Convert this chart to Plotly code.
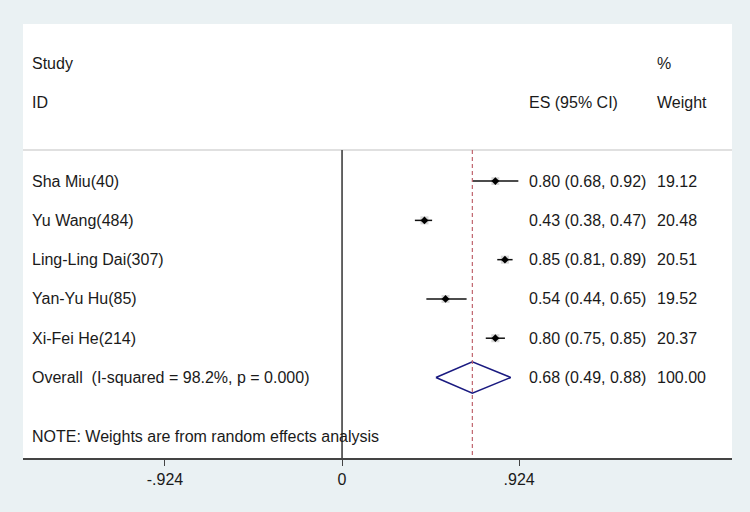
import plotly.graph_objects as go

studies = ["Sha Miu(40)", "Yu Wang(484)", "Ling-Ling Dai(307)", "Yan-Yu Hu(85)", "Xi-Fei He(214)"]
es = [0.80, 0.43, 0.85, 0.54, 0.80]
lo = [0.68, 0.38, 0.81, 0.44, 0.75]
hi = [0.92, 0.47, 0.89, 0.65, 0.85]
weights = [19.12, 20.48, 20.51, 19.52, 20.37]
overall_label = "Overall  (I-squared = 98.2%, p = 0.000)"
overall_es, overall_lo, overall_hi, overall_w = 0.68, 0.49, 0.88, 100.00
note = "NOTE: Weights are from random effects analysis"
tick_vals = [-0.924, 0, 0.924]
tick_text = ["-.924", "0", ".924"]

FONT = "Liberation Sans, Arial, sans-serif"
FS = 16
BG = "#eaf1f3"
rows = list(range(len(studies)))
overall_row = len(studies)
note_row = overall_row + 1.5

X_LABEL = -1.628
X_ES = 0.966
X_W = 1.634
X_MIN, X_MAX = -1.665, 2.035
Y_TOP, Y_BOT = -4.0, 7.05
LINE_TOP = -0.79

fig = go.Figure()

# gray weight boxes
fig.add_trace(go.Scatter(
    x=es, y=rows, mode="markers",
    marker=dict(symbol="square", size=[5 + w * 0.15 for w in weights], color="#c8c8c8", line=dict(width=0)),
    hoverinfo="skip", showlegend=False))
# CIs and point estimates
fig.add_trace(go.Scatter(
    x=es, y=rows, mode="markers",
    error_x=dict(type="data", symmetric=False,
                 array=[h - e for h, e in zip(hi, es)],
                 arrayminus=[e - l for e, l in zip(es, lo)],
                 color="#111111", thickness=1.5, width=0),
    marker=dict(symbol="diamond", size=6, color="#000000"),
    showlegend=False))
# overall diamond
fig.add_trace(go.Scatter(
    x=[overall_lo, overall_es, overall_hi, overall_es, overall_lo],
    y=[overall_row, overall_row - 0.4, overall_row, overall_row + 0.4, overall_row],
    mode="lines", line=dict(color="#1a1a80", width=1.6),
    showlegend=False, hoverinfo="skip"))

shapes = [
    dict(type="line", xref="paper", x0=0, x1=1, yref="y", y0=LINE_TOP, y1=LINE_TOP,
         line=dict(color="#d6d6d6", width=1.5)),
    dict(type="line", x0=0, x1=0, yref="y", y0=LINE_TOP, y1=Y_BOT,
         line=dict(color="#555555", width=1.8)),
    dict(type="line", x0=overall_es, x1=overall_es, yref="y", y0=LINE_TOP, y1=Y_BOT,
         line=dict(color="#c0646e", width=1.2, dash="4px,3px")),
]

ann = []
def txt(x, y, s):
    ann.append(dict(x=x, y=y, text=s, showarrow=False, xanchor="left", yanchor="middle",
                    font=dict(family=FONT, size=FS, color="#1a1a1a")))

txt(X_LABEL, -3, "Study")
txt(X_LABEL, -2, "ID")
txt(X_ES, -2, "ES (95% CI)")
txt(X_W, -3, "%")
txt(X_W, -2, "Weight")
for r, s, e, l, h, w in zip(rows, studies, es, lo, hi, weights):
    txt(X_LABEL, r, s)
    txt(X_ES, r, f"{e:.2f} ({l:.2f}, {h:.2f})")
    txt(X_W, r, f"{w:.2f}")
txt(X_LABEL, overall_row, overall_label)
txt(X_ES, overall_row, f"{overall_es:.2f} ({overall_lo:.2f}, {overall_hi:.2f})")
txt(X_W, overall_row, f"{overall_w:.2f}")
txt(X_LABEL, note_row, note)

fig.update_layout(
    width=750, height=512,
    margin=dict(l=23, r=18, t=24, b=54),
    paper_bgcolor=BG, plot_bgcolor="#ffffff",
    shapes=shapes, annotations=ann,
    font=dict(family=FONT, size=FS, color="#1a1a1a"),
    xaxis=dict(range=[X_MIN, X_MAX], tickvals=tick_vals, ticktext=tick_text,
               showgrid=False, zeroline=False, showline=True, linecolor="#444444", linewidth=1.5,
               ticks="outside", ticklen=6, tickcolor="#444444", tickwidth=1.2,
               tickfont=dict(family=FONT, size=FS, color="#1a1a1a")),
    yaxis=dict(range=[Y_BOT, Y_TOP], visible=False, showgrid=False, zeroline=False),
)

fig.write_html("out.html",
               config={"displayModeBar": False},
               post_script="document.body.style.margin='0';document.body.style.overflow='hidden';"
                           "document.body.style.background='" + BG + "';")
